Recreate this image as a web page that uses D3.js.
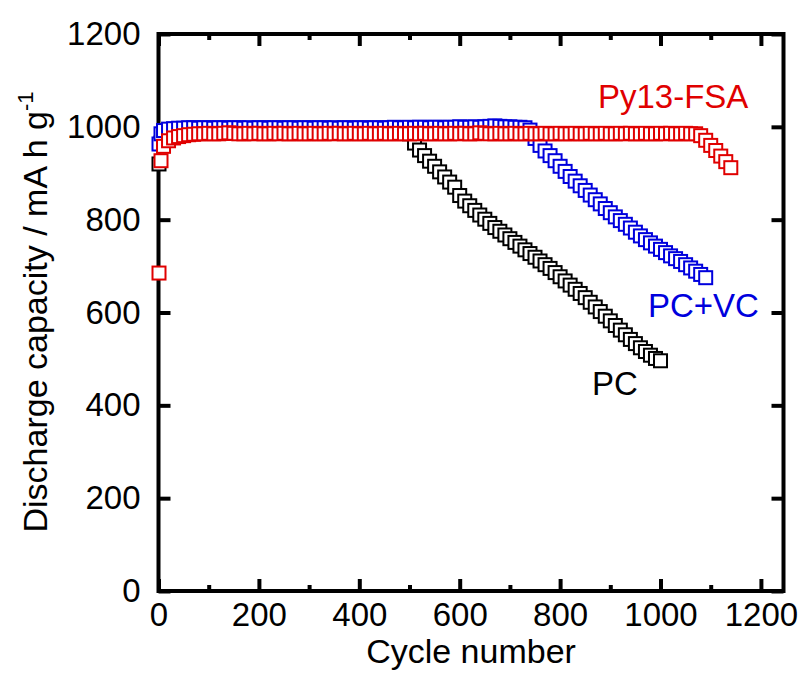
<!DOCTYPE html>
<html>
<head>
    <title>Discharge capacity vs cycle</title>
    <script src="https://d3js.org/d3.v7.min.js"></script>
    <style>
        body { margin: 0; background: white; }
        #drawingPlace text { font-family: "Liberation Sans", Arial, Helvetica, sans-serif; }
    </style>
</head>
<body>
<svg id="drawingPlace" width="801" height="675"></svg>
<script>
    // cycle numbers and capacities (mA h g-1)
    var pcCycles = [1,5,10,20,30,40,50,60,70,80,90,100,110,120,130,140,150,160,170,180,190,200,
        210,220,230,240,250,260,270,280,290,300,310,320,330,340,350,360,370,380,390,400,
        410,420,430,440,450,460,470,480,490,500,510,520,530,540,550,560,570,580,590,600,
        610,620,630,640,650,660,670,680,690,700,710,720,730,740,750,760,770,780,790,800,
        810,820,830,840,850,860,870,880,890,900,910,920,930,940,950,960,970,980,990,1000];
    var pcCapacity = [920,965,980,987,989,990,990,991,991,992,992,992,993,992,993,993,992,993,993,994,993,993,
        993,994,993,993,994,993,994,994,993,994,994,993,994,994,995,994,994,995,994,995,
        995,994,995,995,996,995,996,997,995,985,965,950,938,926,915,903,892,881,870,852,
        840,830,820,810,801,792,783,775,767,759,751,743,735,727,719,711,703,695,686,677,
        668,659,650,641,632,622,612,602,592,582,572,562,552,542,533,524,516,508,501,496];

    var vcCycles = [1,5,10,20,30,40,50,60,70,80,90,100,110,120,130,140,150,160,170,180,190,200,
        210,220,230,240,250,260,270,280,290,300,310,320,330,340,350,360,370,380,390,400,
        410,420,430,440,450,460,470,480,490,500,510,520,530,540,550,560,570,580,590,600,
        610,620,630,640,650,660,670,680,690,700,710,720,730,740,750,760,770,780,790,800,
        810,820,830,840,850,860,870,880,890,900,910,920,930,940,950,960,970,980,990,1000,
        1010,1020,1030,1040,1050,1060,1070,1080,1090];
    var vcCapacity = [963,985,992,995,996,997,997,998,998,997,998,998,997,998,998,997,998,998,997,998,997,998,
        998,997,998,998,997,998,998,997,998,998,997,998,998,997,998,997,998,998,997,998,
        998,997,998,998,997,998,999,998,998,999,998,999,999,998,999,999,998,999,999,1000,
        999,999,1000,999,1000,1001,1002,1001,1000,1000,999,999,998,993,975,960,948,938,927,915,
        904,893,883,873,863,853,843,834,824,815,806,798,790,782,773,765,757,750,743,736,
        729,722,716,710,703,696,689,682,675];

    var fsaCycles = [1,5,10,20,30,40,50,60,70,80,90,100,110,120,130,140,150,160,170,180,190,200,
        210,220,230,240,250,260,270,280,290,300,310,320,330,340,350,360,370,380,390,400,
        410,420,430,440,450,460,470,480,490,500,510,520,530,540,550,560,570,580,590,600,
        610,620,630,640,650,660,670,680,690,700,710,720,730,740,750,760,770,780,790,800,
        810,820,830,840,850,860,870,880,890,900,910,920,930,940,950,960,970,980,990,1000,
        1010,1020,1030,1040,1050,1060,1070,1080,1090,1100,1110,1120,1130,1140];
    var fsaCapacity = [685,927,958,970,976,979,981,983,984,985,985,986,985,985,986,987,986,985,985,986,985,986,
        985,985,986,985,986,985,985,986,985,985,986,985,985,986,985,986,985,985,986,985,
        985,986,985,985,986,985,985,986,985,985,986,985,986,985,985,986,985,985,986,985,
        986,985,985,987,986,985,985,986,985,985,986,985,985,986,985,985,986,985,985,986,
        985,985,986,985,985,986,985,985,986,985,985,986,985,986,985,985,986,985,985,986,
        985,986,985,985,986,985,985,981,971,960,949,937,925,912];

    var seriesNames = ["PC", "PC+VC", "Py13-FSA"];
    var seriesColors = ["#000000", "#0000dd", "#e00000"];

    var xTicks = [0, 200, 400, 600, 800, 1000, 1200];
    var xMinor = [100, 300, 500, 700, 900, 1100];
    var yTicks = [0, 200, 400, 600, 800, 1000, 1200];

    drawChart();

    function drawChart() {
        var svg = d3.select("#drawingPlace");
        var pLeft = 158.5, pRight = 783.5, pTop = 34, pBottom = 591;

        var x = d3.scaleLinear().domain([0, 1245]).range([pLeft, pRight]);
        var y = d3.scaleLinear().domain([0, 1200]).range([pBottom, pTop]);

        var fontSize = 33;

        // axes with inward ticks
        function styleAxis(g) {
            g.select(".domain").remove();
            g.selectAll(".tick line").attr("stroke", "black").attr("stroke-width", 4);
            g.selectAll(".tick text").attr("fill", "black").style("font-size", fontSize + "px");
        }

        svg.append("g")
            .attr("transform", "translate(0," + pBottom + ")")
            .call(d3.axisBottom(x).tickValues(xTicks).tickSize(-12).tickPadding(12).tickFormat(d3.format("d")))
            .call(styleAxis);
        svg.append("g")
            .attr("transform", "translate(0," + pBottom + ")")
            .call(d3.axisBottom(x).tickValues(xMinor).tickSize(-6).tickFormat(""))
            .call(styleAxis);
        svg.append("g")
            .attr("transform", "translate(0," + pTop + ")")
            .call(d3.axisTop(x).tickValues(xTicks).tickSize(-12).tickFormat(""))
            .call(styleAxis);
        svg.append("g")
            .attr("transform", "translate(0," + pTop + ")")
            .call(d3.axisTop(x).tickValues(xMinor).tickSize(-6).tickFormat(""))
            .call(styleAxis);

        svg.append("g")
            .attr("transform", "translate(" + pLeft + ",0)")
            .call(d3.axisLeft(y).tickValues(yTicks).tickSize(-12).tickPadding(18).tickFormat(d3.format("d")))
            .call(styleAxis);
        svg.append("g")
            .attr("transform", "translate(" + pRight + ",0)")
            .call(d3.axisRight(y).tickValues(yTicks).tickSize(-12).tickFormat(""))
            .call(styleAxis);

        // frame
        svg.append("rect")
            .attr("x", pLeft).attr("y", pTop)
            .attr("width", pRight - pLeft).attr("height", pBottom - pTop)
            .attr("fill", "none").attr("stroke", "black").attr("stroke-width", 4);

        // data
        var allSeries = [
            d3.zip(pcCycles, pcCapacity),
            d3.zip(vcCycles, vcCapacity),
            d3.zip(fsaCycles, fsaCapacity)
        ];
        var size = 13;
        allSeries.forEach(function (pts, i) {
            svg.append("g")
                .selectAll("rect")
                .data(pts)
                .enter()
                .append("rect")
                .attr("x", d => x(d[0]) - size / 2)
                .attr("y", d => y(d[1]) - size / 2)
                .attr("width", size)
                .attr("height", size)
                .attr("fill", "white")
                .attr("stroke", seriesColors[i])
                .attr("stroke-width", 2);
        });

        // series labels
        var labelPos = [[592, 395], [648, 317], [598, 108]];
        seriesNames.forEach(function (name, i) {
            svg.append("text")
                .attr("x", labelPos[i][0])
                .attr("y", labelPos[i][1])
                .attr("fill", seriesColors[i])
                .style("font-size", fontSize + "px")
                .text(name);
        });

        // axis titles
        svg.append("text")
            .attr("x", 471)
            .attr("y", 663)
            .attr("text-anchor", "middle")
            .style("font-size", "34px")
            .text("Cycle number");

        var yt = svg.append("text")
            .attr("transform", "translate(47,312) rotate(-90)")
            .attr("text-anchor", "middle")
            .style("font-size", "34px");
        yt.append("tspan").text("Discharge capacity / mA h g");
        yt.append("tspan").attr("dy", -14).style("font-size", "22px").text("-1");
    }
</script>
</body>
</html>
